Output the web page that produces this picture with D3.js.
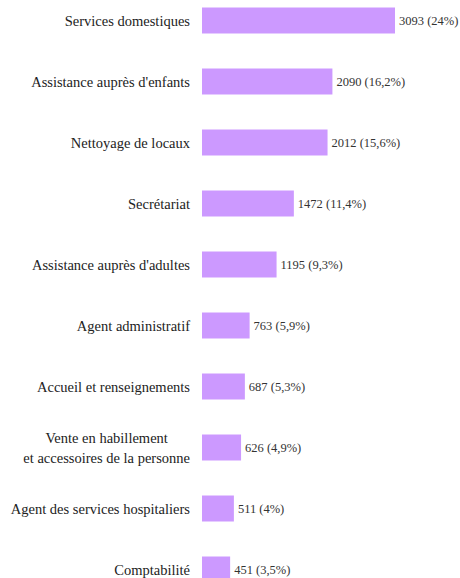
<!DOCTYPE html>
<html>
<head>
<meta charset="utf-8">
<script src="https://cdn.jsdelivr.net/npm/d3@7"></script>
<style>
  body { margin: 0; background: #fff; overflow: hidden; }
</style>
</head>
<body>
<svg id="chart" width="460" height="578"></svg>
<script>
const categories = [
  "Services domestiques",
  "Assistance auprès d'enfants",
  "Nettoyage de locaux",
  "Secrétariat",
  "Assistance auprès d'adultes",
  "Agent administratif",
  "Accueil et renseignements",
  "Vente en habillement\net accessoires de la personne",
  "Agent des services hospitaliers",
  "Comptabilité"
];
const values = [3093, 2090, 2012, 1472, 1195, 763, 687, 626, 511, 451];
const shares = ["24%", "16,2%", "15,6%", "11,4%", "9,3%", "5,9%", "5,3%", "4,9%", "4%", "3,5%"];

const rows = categories.map((c, i) => ({ name: c, value: values[i], share: shares[i] }));

const serif = "'Liberation Serif'";
const svg = d3.select('#chart').style('font-family', serif);
const left = 202;
const labelX = 190;

const x = d3.scaleLinear().domain([0, 3093]).range([left, 395]);
const y = d3.scaleBand().domain(categories).range([-10, 600]).paddingInner(0.574).paddingOuter(0.287);

const g = svg.append('g');

g.selectAll('.bar')
  .data(rows)
  .enter()
  .append('rect')
  .attr('class', 'bar')
  .attr('x', x(0))
  .attr('y', d => y(d.name))
  .attr('width', d => x(d.value) - x(0))
  .attr('height', y.bandwidth())
  .attr('fill', '#cc99ff');

g.selectAll('.val')
  .data(rows)
  .enter()
  .append('text')
  .attr('class', 'val')
  .style('font-family', serif)
  .attr('x', d => x(d.value) + 4)
  .attr('y', d => y(d.name) + y.bandwidth() / 2)
  .attr('dy', '0.35em')
  .attr('font-size', 12.5)
  .attr('fill', '#333')
  .text(d => `${d.value} (${d.share})`);

rows.forEach(d => {
  const lines = d.name.split('\n');
  const cy = y(d.name) + y.bandwidth() / 2;
  const t = g.append('text')
    .style('font-family', serif)
    .attr('font-size', 14.5)
    .attr('fill', '#222');
  if (lines.length === 1) {
    t.attr('x', labelX).attr('y', cy).attr('dy', '0.35em')
      .attr('text-anchor', 'end').text(d.name);
  } else {
    // multi-line labels are centred on the widest line
    const spans = lines.map((l, j) => t.append('tspan')
      .attr('y', cy + (j - (lines.length - 1) / 2) * 20)
      .attr('dy', '0.35em')
      .text(l));
    const widths = spans.map(s => s.node().getComputedTextLength());
    const cx = labelX - d3.max(widths) / 2;
    spans.forEach(s => s.attr('x', cx).attr('text-anchor', 'middle'));
  }
});
</script>
</body>
</html>
